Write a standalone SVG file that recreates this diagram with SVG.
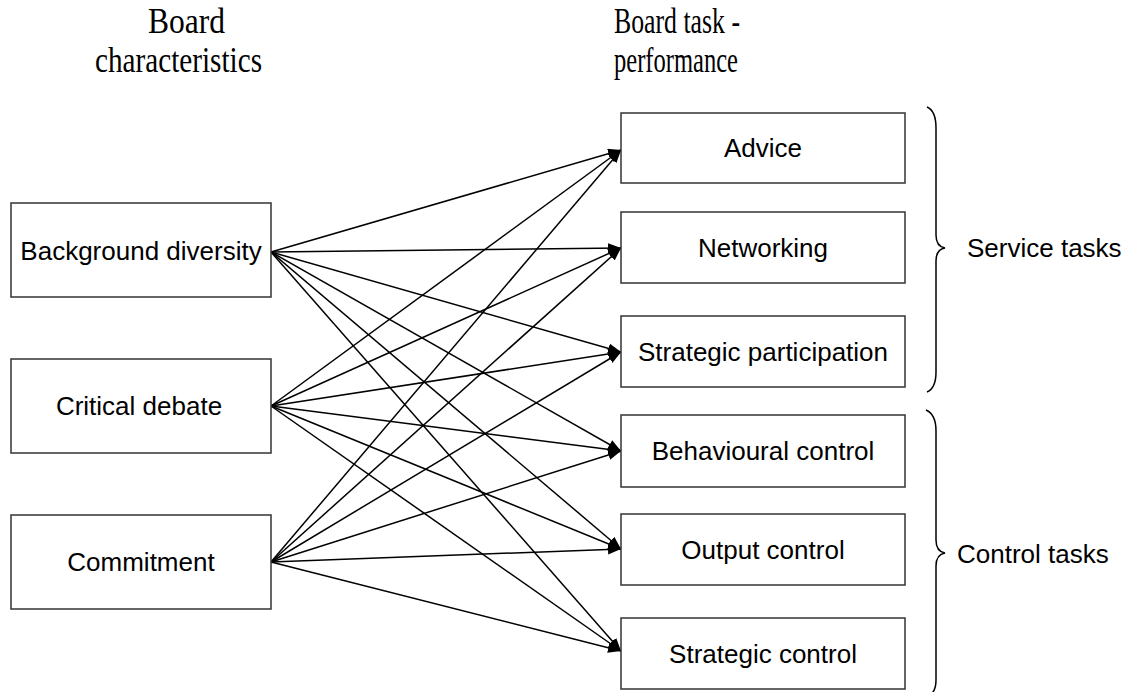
<svg xmlns="http://www.w3.org/2000/svg" width="1136" height="692" viewBox="0 0 1136 692">
<defs>
<marker id="arrow" markerUnits="userSpaceOnUse" markerWidth="14" markerHeight="11" refX="13" refY="5" orient="auto">
<path d="M0,0 L13,5 L0,10 z" fill="#000"/>
</marker>
<style>
.box{fill:#fff;stroke:#333;stroke-width:1.5}
.lbl{font-family:"Liberation Sans",Arial,sans-serif;font-size:26px;fill:#000;text-anchor:middle}
.side{font-family:"Liberation Sans",Arial,sans-serif;font-size:26px;fill:#000}
.head{font-family:"Liberation Serif","Times New Roman",serif;font-size:35px;fill:#000}
.conn line{stroke:#000;stroke-width:1.5;marker-end:url(#arrow)}
.brace{fill:none;stroke:#000;stroke-width:1.5}
</style>
</defs>
<rect width="1136" height="692" fill="#fff"/>
<g id="headings">
<text class="head" x="148" y="33" textLength="77" lengthAdjust="spacingAndGlyphs">Board</text>
<text class="head" x="95" y="72" textLength="167" lengthAdjust="spacingAndGlyphs">characteristics</text>
<text class="head" x="614" y="33" textLength="126" lengthAdjust="spacingAndGlyphs">Board task -</text>
<text class="head" x="614" y="72" textLength="124" lengthAdjust="spacingAndGlyphs">performance</text>
</g>
<g id="connectors" class="conn">
<line x1="271" y1="252" x2="621" y2="150"/>
<line x1="271" y1="252" x2="621" y2="248"/>
<line x1="271" y1="252" x2="621" y2="352"/>
<line x1="271" y1="252" x2="621" y2="451"/>
<line x1="271" y1="252" x2="621" y2="549"/>
<line x1="271" y1="252" x2="621" y2="651"/>
<line x1="271" y1="406" x2="621" y2="150"/>
<line x1="271" y1="406" x2="621" y2="248"/>
<line x1="271" y1="406" x2="621" y2="352"/>
<line x1="271" y1="406" x2="621" y2="451"/>
<line x1="271" y1="406" x2="621" y2="549"/>
<line x1="271" y1="406" x2="621" y2="651"/>
<line x1="271" y1="562" x2="621" y2="150"/>
<line x1="271" y1="562" x2="621" y2="248"/>
<line x1="271" y1="562" x2="621" y2="352"/>
<line x1="271" y1="562" x2="621" y2="451"/>
<line x1="271" y1="562" x2="621" y2="549"/>
<line x1="271" y1="562" x2="621" y2="651"/>
</g>
<g id="background-diversity">
<rect class="box" x="11" y="203" width="260" height="94"/>
<text class="lbl" x="141" y="260">Background diversity</text>
</g>
<g id="critical-debate">
<rect class="box" x="11" y="359" width="260" height="94"/>
<text class="lbl" x="139" y="415">Critical debate</text>
</g>
<g id="commitment">
<rect class="box" x="11" y="515" width="260" height="94"/>
<text class="lbl" x="141" y="571">Commitment</text>
</g>
<g id="advice">
<rect class="box" x="621" y="113" width="284" height="70"/>
<text class="lbl" x="763" y="157">Advice</text>
</g>
<g id="networking">
<rect class="box" x="621" y="212" width="284" height="71"/>
<text class="lbl" x="763" y="257">Networking</text>
</g>
<g id="strategic-participation">
<rect class="box" x="621" y="316" width="284" height="71"/>
<text class="lbl" x="763" y="361">Strategic participation</text>
</g>
<g id="behavioural-control">
<rect class="box" x="621" y="415" width="284" height="72"/>
<text class="lbl" x="763" y="460">Behavioural control</text>
</g>
<g id="output-control">
<rect class="box" x="621" y="514" width="284" height="71"/>
<text class="lbl" x="763" y="559">Output control</text>
</g>
<g id="strategic-control">
<rect class="box" x="621" y="618" width="284" height="71"/>
<text class="lbl" x="763" y="663">Strategic control</text>
</g>
<g id="service-tasks">
<path class="brace" d="M927,107 C934,110 936,118 936,128 L936,235 C936,243 939,247 945,248 C939,249 936,253 936,261 L936,372 C936,382 934,389 927,392"/>
<text class="side" x="967" y="257">Service tasks</text>
</g>
<g id="control-tasks">
<path class="brace" d="M926,410 C933,413 936,421 936,431 L936,540 C936,548 939,552 945,553 C939,554 936,558 936,566 L936,680 C936,688 934,694 927,697"/>
<text class="side" x="957" y="563">Control tasks</text>
</g>
</svg>
